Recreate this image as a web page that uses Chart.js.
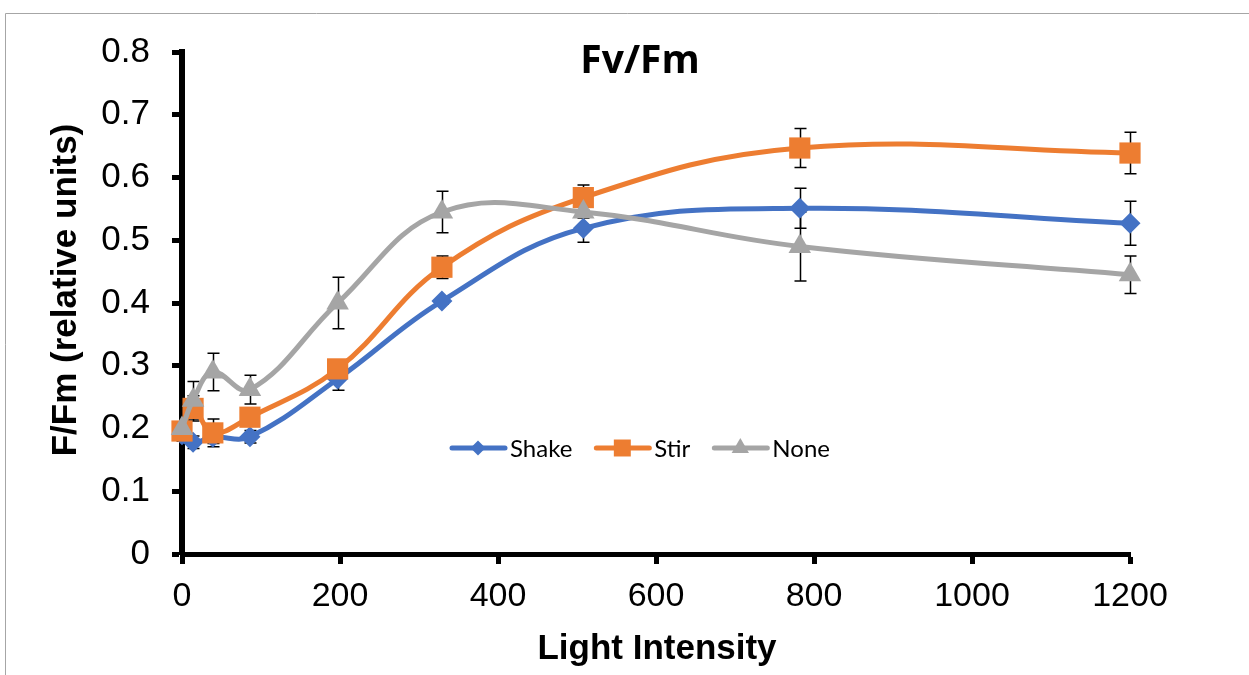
<!DOCTYPE html>
<html>
<head>
<meta charset="utf-8">
<title>Fv/Fm</title>
<script src="https://cdn.jsdelivr.net/npm/chart.js@4.4.1/dist/chart.umd.min.js"></script>
<style>
  html, body { margin: 0; padding: 0; background: #fff; }
</style>
</head>
<body>
<canvas id="fvfm" width="1249" height="675"></canvas>
<script>
// light intensity (x) and Fv/Fm means per treatment
const lightIntensity = [0, 14, 39, 86, 197, 329, 508, 782, 1200]
const shake = [0.19, 0.178, 0.186, 0.187, 0.279, 0.403, 0.519, 0.551, 0.527]
const stir = [0.196, 0.232, 0.193, 0.218, 0.295, 0.457, 0.568, 0.647, 0.639]
const none = [0.2, 0.245, 0.29, 0.262, 0.4, 0.545, 0.545, 0.49, 0.445]

// error bar half widths
const shakeErr = [0.01, 0.01, 0.01, 0.01, 0.018, 0.005, 0.022, 0.032, 0.035]
const stirErr = [0.01, 0.02, 0.022, 0.01, 0.01, 0.018, 0.02, 0.031, 0.033]
const noneErr = [0.01, 0.03, 0.03, 0.023, 0.041, 0.033, 0.01, 0.055, 0.03]

const xTicks = [0, 200, 400, 600, 800, 1000, 1200]
const yTicks = [0, 0.1, 0.2, 0.3, 0.4, 0.5, 0.6, 0.7, 0.8]

const chartTitle = "Fv/Fm"
const xTitle = "Light Intensity"
const yTitle = "F/Fm (relative units)"

const toPoints = ys => ys.map((y, i) => ({ x: lightIntensity[i], y }))

const series = [
  { label: "Shake", values: shake, err: shakeErr, color: "#4472C4", style: "rectRot", radius: 10.5, legendRadius: 7.5, order: 3 },
  { label: "Stir", values: stir, err: stirErr, color: "#ED7D31", style: "rect", radius: 15, legendRadius: 12, order: 2 },
  { label: "None", values: none, err: noneErr, color: "#A5A5A5", style: "triangle", radius: 13, legendRadius: 10, order: 1 },
]

const frame = {
  id: "frame",
  beforeDraw(chart) {
    const { ctx } = chart
    ctx.save()
    ctx.fillStyle = "#fff"
    ctx.fillRect(0, 0, chart.width, chart.height)
    ctx.strokeStyle = "#a6a6a6"
    ctx.lineWidth = 1
    ctx.beginPath()
    ctx.moveTo(5.5, chart.height + 2)
    ctx.lineTo(5.5, 13.5)
    ctx.lineTo(chart.width + 2, 13.5)
    ctx.stroke()
    ctx.restore()
  },
}

const errorBars = {
  id: "errorBars",
  beforeDatasetsDraw(chart) {
    const { ctx } = chart
    const yScale = chart.scales.y
    ctx.save()
    ctx.strokeStyle = "#000"
    ctx.lineWidth = 1.5
    chart.data.datasets.forEach((ds, di) => {
      const meta = chart.getDatasetMeta(di)
      meta.data.forEach((pt, i) => {
        const v = ds.data[i].y
        const e = ds.errors[i]
        const top = yScale.getPixelForValue(v + e)
        const bot = yScale.getPixelForValue(v - e)
        const x = Math.round(pt.x) + 0.5
        ctx.beginPath()
        ctx.moveTo(x, top)
        ctx.lineTo(x, bot)
        ctx.moveTo(x - 6, top)
        ctx.lineTo(x + 6, top)
        ctx.moveTo(x - 6, bot)
        ctx.lineTo(x + 6, bot)
        ctx.stroke()
      })
    })
    ctx.restore()
  },
}

const labels = {
  id: "labels",
  afterDraw(chart) {
    const { ctx } = chart
    ctx.save()
    ctx.fillStyle = "#000"

    // title
    ctx.font = "bold 39px 'Open Sans'"
    ctx.textAlign = "center"
    ctx.textBaseline = "alphabetic"
    ctx.fillText(chartTitle, 640, 73)

    // x axis title
    ctx.font = "bold 35px 'Liberation Sans'"
    ctx.fillText(xTitle, 657, 659)

    // y axis title
    ctx.save()
    ctx.translate(76, 290)
    ctx.rotate(-Math.PI / 2)
    ctx.fillText(yTitle, 0, 0)
    ctx.restore()

    // legend inside plot
    ctx.font = "24px Lato"
    ctx.textAlign = "left"
    ctx.textBaseline = "middle"
    let x = 450
    const y = 448
    series.forEach(s => {
      ctx.strokeStyle = s.color
      ctx.lineWidth = 5
      ctx.lineCap = "round"
      ctx.beginPath()
      ctx.moveTo(x + 2, y)
      ctx.lineTo(x + 55, y)
      ctx.stroke()
      ctx.fillStyle = s.color
      Chart.helpers.drawPoint(ctx, { pointStyle: s.style, radius: s.legendRadius, rotation: 0, borderWidth: 0 }, x + 28, y)
      ctx.fillStyle = "#000"
      ctx.fillText(s.label, x + 60, y + 1)
      x += 60 + ctx.measureText(s.label).width + 22
    })
    ctx.restore()
  },
}

new Chart(document.getElementById("fvfm"), {
  type: "scatter",
  data: {
    datasets: series.map(s => ({
      label: s.label,
      data: toPoints(s.values),
      errors: s.err,
      order: s.order,
      showLine: true,
      tension: 0.4,
      borderColor: s.color,
      backgroundColor: s.color,
      borderWidth: 5,
      pointStyle: s.style,
      pointRadius: s.radius,
      pointHoverRadius: s.radius,
      pointBorderWidth: 0,
      clip: false,
    })),
  },
  options: {
    responsive: false,
    animation: false,
    devicePixelRatio: 1,
    layout: { padding: { top: 52, right: 119, left: 0, bottom: 0 } },
    plugins: {
      legend: { display: false },
      tooltip: { enabled: false },
    },
    scales: {
      x: {
        type: "linear",
        min: 0,
        max: 1200,
        afterFit: scale => { scale.height = 121 },
        afterBuildTicks: scale => { scale.ticks = xTicks.map(v => ({ value: v })) },
        border: { display: true, width: 5, color: "#000" },
        grid: { drawOnChartArea: false, drawTicks: true, tickLength: 10, tickWidth: 5, tickColor: "#000" },
        ticks: {
          color: "#000",
          padding: 12,
          maxRotation: 0,
          font: { family: "'Liberation Sans'", size: 34 },
          callback: v => String(v),
        },
      },
      y: {
        min: 0,
        max: 0.8,
        afterFit: scale => { scale.width = 182 },
        afterBuildTicks: scale => { scale.ticks = yTicks.map(v => ({ value: v })) },
        border: { display: true, width: 6, color: "#000" },
        grid: { drawOnChartArea: false, drawTicks: true, tickLength: 10, tickWidth: 5, tickColor: "#000" },
        ticks: {
          color: "#000",
          padding: 22,
          font: { family: "'Liberation Sans'", size: 35 },
          callback: v => String(+v.toFixed(1)),
        },
      },
    },
  },
  plugins: [frame, errorBars, labels],
})
</script>
</body>
</html>
